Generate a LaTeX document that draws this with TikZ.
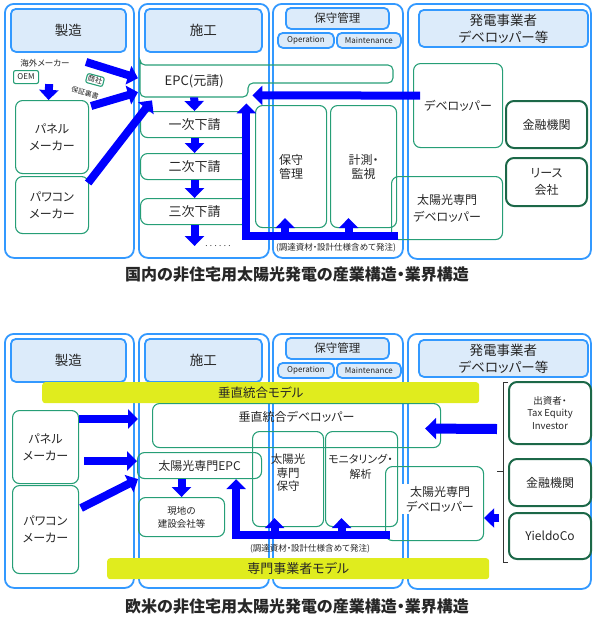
\documentclass[tikz,border=0pt]{standalone}
\usepackage{fontspec}
\setmainfont{Noto Sans CJK JP}[RawFeature=+palt]
\usetikzlibrary{arrows.meta,calc}
\definecolor{colblue}{RGB}{51,153,255}
\definecolor{hdrfill}{RGB}{220,235,250}
\definecolor{boxgreen}{RGB}{38,158,118}
\definecolor{darkgreen}{RGB}{28,104,72}
\definecolor{arrblue}{RGB}{0,0,255}
\definecolor{lime}{RGB}{224,236,30}
\tikzset{
    sz/.style 2 args={minimum width=#1,minimum height=#2,anchor=north west,inner sep=0pt},
    col/.style={draw=colblue,line width=1.8,rounded corners=9},
    hdr/.style={draw=colblue,fill=hdrfill,line width=1.8,rounded corners=5,align=center,font=\fontsize{13.5}{17}\selectfont},
    gbox/.style={draw=boxgreen,line width=1.1,rounded corners=7,align=center},
    dbox/.style={draw=darkgreen,line width=2,rounded corners=8,align=center},
    model/.style={fill=lime,rounded corners=3,font=\fontsize{12.5}{14}\selectfont},
    arr/.style={draw=arrblue,line width=8,-{Triangle[length=10pt,width=19pt]}},
    brk/.style={draw=black!80,line width=0.8},
    note/.style={font=\fontsize{8.5}{10}\selectfont},
    tag/.style={font=\fontsize{8}{9}\selectfont},
    big/.style={font=\fontsize{13}{16}\selectfont},
    headline/.style={font=\fontsize{16}{19}\bfseries}
}
\begin{document}
\begin{tikzpicture}[x=1pt,y=-1pt,text=black!85,font=\fontsize{12}{17}\selectfont]
\useasboundingbox (0,0) rectangle (595,627);
% frame
\foreach \dy/\s in {0/t,330/b}{
  \node[col,sz={129}{254}] (seizo\s) at (4,{3+\dy}) {};
  \node[col,sz={130}{254}] (seko\s) at (138,{3+\dy}) {};
  \node[col,sz={130}{254}] (hoshukan\s) at (272,{3+\dy}) {};
  \node[col,sz={183}{255}] (hatsu\s) at (407,{3+\dy}) {};
  \node[hdr,sz={115}{43}] (seizoh\s) at (10,{8+\dy}) {製造};
  \node[hdr,sz={117}{43}] (sekoh\s) at (144,{8+\dy}) {施工};
  \node[hdr,sz={103}{21},font=\fontsize{11.5}{13}\selectfont] (hoshuh\s) at (285,{7+\dy}) {保守管理};
  \node[hdr,sz={56}{15},tag] (oper\s) at (277,{32+\dy}) {Operation};
  \node[hdr,sz={64}{15},tag] (maint\s) at (336,{32+\dy}) {Maintenance};
  \node[hdr,sz={169}{37}] (hatsuh\s) at (418,{9+\dy}) {発電事業者\\デベロッパー等};
}
% domestic
\node[note] (kaigai) at (45,63) {海外メーカー};
\node[gbox,sz={25}{13},tag,rounded corners=2] (oem) at (13,70) {OEM};
\node[gbox,rotate=-15,inner sep=1.2pt,rounded corners=2,font=\fontsize{7.5}{8}\selectfont] (shosha) at (95,80) {商社};
\node[rotate=-15,inner sep=0pt,font=\fontsize{7}{8}\selectfont] (hosho) at (85,93) {保証裏書};
\node[gbox,sz={73}{73}] (pnl) at (15,100) {パネル\\メーカー};
\node[gbox,sz={73}{57}] (pwc) at (15,176) {パワコン\\メーカー};
\node[sz={108}{32},big] (epc) at (140,65) {EPC(元請)};
\draw[gbox,rounded corners=5] (140,65) -| (393,83) -| (248,97) -| cycle;
\node[gbox,sz={108}{26},big] (sub1) at (140,111) {一次下請};
\node[gbox,sz={108}{26},big] (sub2) at (140,153) {二次下請};
\node[gbox,sz={108}{26},big] (sub3) at (140,198) {三次下請};
\node[font=\fontsize{8}{9}\selectfont] (dots) at (218,246) {. . . . . .};
\node[gbox,sz={71}{122},font=\fontsize{12}{14}\selectfont] (hoshu) at (255,105) {保守\\管理};
\node[gbox,sz={66}{122},font=\fontsize{12}{14}\selectfont] (keisoku) at (330,105) {計測・\\監視};
\node[gbox,sz={89}{84}] (dev) at (413,63) {デベロッパー};
\node[dbox,sz={81}{47}] (kin) at (505,100) {金融機関};
\node[dbox,sz={81}{48}] (lease) at (505,157) {リース\\会社};
\node[gbox,sz={111}{63}] (sdev) at (391,176) {太陽光専門\\デベロッパー};
\node[note] (ordert) at (336,248) {(調達資材・設計仕様含めて発注)};
\node[headline] (cap1) at (297,275) {国内の非住宅用太陽光発電の産業構造・業界構造};
\draw[arr] ($(oem.south east)+(10,0)$) -- ($(pnl.north)+(-3.5,0)$);
\draw[arr] ($(kaigai.east)+(13,-1)$) -- ($(epc.west)+(-2,-3)$);
\draw[arr] ($(pnl.north east)+(2,6)$) -- ($(epc.west)+(-2,11)$);
\draw[arr] ($(pwc.north east)+(-1,7)$) -- ($(epc.south west)+(12,3)$);
\foreach \a/\b in {epc/sub1,sub1/sub2,sub2/sub3}
  \draw[arr] (\a.south) -- (\b.north);
\draw[arr] (sub3.south) -- (sub3.south |- dots.center);
\draw[arr] ($(dev.west)+(7,-10)$) -- ($(epc.south east)+(4,-2)$);
\coordinate (feedt) at (398,236);
\coordinate (tipt) at ($(epc.south east)+(-2,6)$);
\draw[arr] (feedt) -- (feedt -| tipt) -- (tipt);
\draw[arr] ($(hoshu.south)+(-6,9)$) -- ($(hoshu.south)+(-6,-10)$);
\draw[arr] ($(keisoku.south)+(-15,9)$) -- ($(keisoku.south)+(-15,-10)$);
% overseas
\node[model,sz={437}{21}] (vmodel) at (42,382) {垂直統合モデル};
\node[model,sz={382}{21},font=\fontsize{13}{14}\selectfont] (smodel) at (107,558) {専門事業者モデル};
\node[gbox,sz={66}{73}] (pnl2) at (12,410) {パネル\\メーカー};
\node[gbox,sz={66}{88}] (pwc2) at (12,485) {パワコン\\メーカー};
\node[gbox,sz={288}{44}] (vdev) at (152,403) {};
\node (vdevl) at ($(vdev.north)+(0,14)$) {垂直統合デベロッパー};
\node[gbox,sz={124}{26}] (sepc) at (137,452) {太陽光専門EPC};
\node[gbox,sz={86}{39},font=\fontsize{9.5}{13}\selectfont] (genchi) at (138,497) {現地の\\建設会社等};
\node[gbox,sz={71}{95}] (shoshu) at (252,431) {};
\node[align=center,font=\fontsize{11.5}{13.5}\selectfont] (shoshul) at ($(shoshu.north)+(0,42)$) {太陽光\\専門\\保守};
\node[gbox,sz={72}{95}] (moni) at (325,431) {};
\node[align=center,font=\fontsize{11}{15}\selectfont] (monil) at ($(moni.north)+(-1,36)$) {モニタリング・\\解析};
\node[gbox,sz={98}{74}] (bdev) at (385,466) {};
\node[fill=white,align=center,minimum width=80,minimum height=30,inner sep=0pt,font=\fontsize{12}{15}\selectfont] (bdevl) at (440,499) {太陽光専門\\デベロッパー};
\node[dbox,sz={82}{62},font=\fontsize{9.5}{12.5}\selectfont] (inv) at (508,381) {出資者・\\Tax Equity\\Investor};
\node[dbox,sz={82}{47}] (kin2) at (508,458) {金融機関};
\node[dbox,sz={82}{46}] (yield) at (508,512) {YieldoCo};
\draw[brk] ($(inv.north west)+(0,1)$) -- ++(-5,0) -- ($(yield.south west)+(-5,2)$) -- ++(5,0);
\draw[brk] ($(inv.north west)!0.5!(yield.south west)+(-5,1)$) -- ++(-6,0);
\node[note] (orderb) at (310,549) {(調達資材・設計仕様含めて発注)};
\node[headline] (cap2) at (297,607) {欧米の非住宅用太陽光発電の産業構造・業界構造};
\coordinate (pa) at ($(pnl2.north east)+(0,9)$);
\draw[arr] (pa) -- (pa -| sekob.west);
\coordinate (pb) at ($(pnl2.east)+(5,14)$);
\draw[arr] (pb) -- (pb -| sepc.west);
\draw[arr] ($(pwc2.north east)+(2,23)$) -- ($(sepc.south west)+(1,0)$);
\draw[arr] (genchi.north |- sepc.south) -- (genchi.north);
\draw[arr,line width=10,-{Triangle[length=11pt,width=21pt]}] ($(inv.west)+(-11,16)$) -- ($(vdev.east)+(-16,3)$);
\coordinate (py) at ($(yield.west)+(-9,-18)$);
\draw[arr] (py) -- (py -| bdev.east);
\coordinate (feedb) at (390,535);
\coordinate (tipb) at ($(sepc.south east)+(-26,0)$);
\draw[arr] (feedb) -- (feedb -| tipb) -- (tipb);
\draw[arr] ($(shoshu.south)+(-13.5,9)$) -- ($(shoshu.south)+(-13.5,-9)$);
\draw[arr] ($(moni.south)+(-20,9)$) -- ($(moni.south)+(-20,-9)$);
\end{tikzpicture}
\end{document}
